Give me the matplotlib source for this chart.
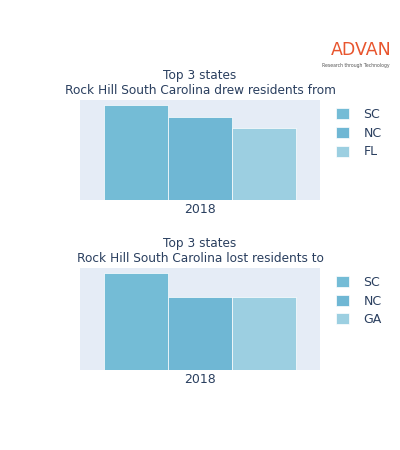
import matplotlib
matplotlib.use("Agg")
import matplotlib.pyplot as plt

year = "2018"
top_states = ["SC", "NC", "FL"]
top_values = [1.0, 0.87, 0.75]
bot_states = ["SC", "NC", "GA"]
bot_values = [1.0, 0.75, 0.75]
colors = ["#74bcd6", "#6fb7d4", "#9ccfe1"]
titles = ["Top 3 states\nRock Hill South Carolina drew residents from",
          "Top 3 states\nRock Hill South Carolina lost residents to"]

fig = plt.figure(figsize=(4, 4.5), dpi=100)
tc = "#2a3f5f"
specs = [(0.556, 0.222, top_states, top_values, titles[0]),
         (0.178, 0.227, bot_states, bot_values, titles[1])]
for bottom, h, states, vals, title in specs:
    ax = fig.add_axes([0.2, bottom, 0.6, h])
    ax.set_facecolor("#e5ecf6")
    w = 0.8 / len(vals)
    for i, (s, v) in enumerate(zip(states, vals)):
        x = -0.4 + w * i
        ax.bar(x, v, width=w, align="edge", color=colors[i], edgecolor="white", linewidth=0.5, label=s)
    ax.set_xlim(-0.5, 0.5)
    ax.set_ylim(0, 1.05)
    ax.set_xticks([0])
    ax.set_xticklabels([year], fontsize=9, color=tc)
    ax.set_yticks([])
    ax.tick_params(length=0, pad=2)
    for sp in ax.spines.values():
        sp.set_visible(False)
    ax.set_title(title, fontsize=8.7, color=tc, pad=4, linespacing=1.25)
    leg = ax.legend(loc="upper left", bbox_to_anchor=(1.02, 1.03), frameon=False,
                    fontsize=9, handlelength=1.0, handleheight=1.0, labelspacing=0.45, handletextpad=1.2)
    for t in leg.get_texts():
        t.set_color(tc)

fig.text(0.98, 0.878, "ADVAN", ha="right", fontsize=12.5, color="#e8552e")
fig.text(0.975, 0.852, "Research through Technology", ha="right", fontsize=3.3, color="#555555")
fig.savefig("out.png", dpi=100, facecolor="white")
